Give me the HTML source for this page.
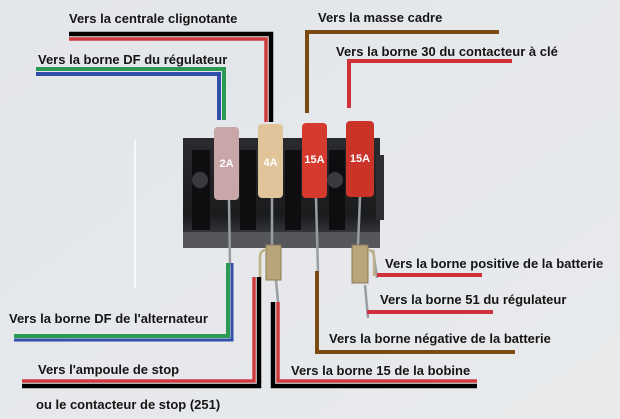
<!DOCTYPE html>
<html><head><meta charset="utf-8"><style>
html,body{margin:0;padding:0;background:#e5e8eb;}
svg{display:block}
text{font-family:"Liberation Sans",Arial,sans-serif;font-weight:bold;font-size:13px;fill:#151515;}
</style></head><body>
<svg width="620" height="419" viewBox="0 0 620 419" xmlns="http://www.w3.org/2000/svg">
<defs>
<linearGradient id="bg" x1="0" y1="0" x2="1" y2="1"><stop offset="0" stop-color="#e3e6ea"/><stop offset="1" stop-color="#e8eaec"/></linearGradient>
<linearGradient id="blk" x1="0" y1="0" x2="0" y2="1"><stop offset="0" stop-color="#2a2b2e"/><stop offset="0.7" stop-color="#1a1b1d"/><stop offset="1" stop-color="#4a4c50"/></linearGradient>
</defs>
<rect width="620" height="419" fill="url(#bg)"/>
<line x1="135" y1="140" x2="135" y2="288" stroke="#fff" stroke-width="1.5"/>

<!-- fuse block -->
<rect x="183" y="138" width="197" height="110" fill="url(#blk)"/>
<rect x="183" y="232" width="197" height="16" fill="#55575b"/>
<rect x="192" y="150" width="18" height="80" fill="#0e0e10"/>
<rect x="240" y="150" width="16" height="80" fill="#0e0e10"/>
<rect x="285" y="150" width="16" height="80" fill="#0e0e10"/>
<rect x="329" y="150" width="16" height="80" fill="#0e0e10"/>
<circle cx="200" cy="180" r="8" fill="#3a3b3e"/>
<circle cx="335" cy="180" r="8" fill="#3a3b3e"/>
<rect x="376" y="155" width="8" height="65" fill="#2e2f33"/>

<!-- fuses -->
<rect x="214" y="127" width="25" height="73" rx="4" fill="#c9a6a8"/>
<rect x="258" y="124" width="25" height="74" rx="4" fill="#e0c49a"/>
<rect x="302" y="123" width="25" height="75" rx="4" fill="#d63a2e"/>
<rect x="346" y="121" width="28" height="76" rx="4" fill="#cc3328"/>
<g style="font-size:11px" fill="#fff">
<text x="226.5" y="167" text-anchor="middle" style="fill:#fff;font-size:11px">2A</text>
<text x="270.5" y="166" text-anchor="middle" style="fill:#fff;font-size:11px">4A</text>
<text x="314.5" y="163" text-anchor="middle" style="fill:#fff;font-size:11px">15A</text>
<text x="360" y="162" text-anchor="middle" style="fill:#fff;font-size:11px">15A</text>
</g>

<!-- pins -->
<g stroke="#9a9ea3" stroke-width="2.5">
<line x1="229" y1="200" x2="230" y2="265"/>
<line x1="272" y1="198" x2="272" y2="250"/>
<line x1="316" y1="198" x2="318" y2="272"/>
<line x1="360" y1="197" x2="358" y2="245"/>
<line x1="276" y1="280" x2="278" y2="302"/>
<line x1="365" y1="285" x2="368" y2="318"/>
<line x1="373" y1="250" x2="377" y2="278"/>
</g>
<rect x="266" y="245" width="15" height="35" fill="#b8a57a" stroke="#8a7a55"/>
<path d="M266 250 q-6 0 -6 8 v22" fill="none" stroke="#c0b288" stroke-width="2.5"/>
<rect x="352" y="245" width="16" height="38" fill="#b8a57a" stroke="#8a7a55"/>
<path d="M368 250 q6 0 6 8 v18" fill="none" stroke="#c0b288" stroke-width="2.5"/>

<!-- top lines -->
<polyline points="69,34 271,34 271,122" fill="none" stroke="#000" stroke-width="4.5"/>
<polyline points="69,39 266,39 266,122" fill="none" stroke="#cf3a3e" stroke-width="3.5"/>
<polyline points="36,69 224,69 224,120" fill="none" stroke="#2a9a55" stroke-width="4"/>
<polyline points="36,74 219,74 219,120" fill="none" stroke="#2f4faa" stroke-width="4"/>
<polyline points="499,32 307,32 307,113" fill="none" stroke="#7b4a12" stroke-width="4"/>
<polyline points="512,61 349,61 349,108" fill="none" stroke="#d0303a" stroke-width="4"/>

<!-- bottom lines -->
<polyline points="228,263 228,336 14,336" fill="none" stroke="#2a9a55" stroke-width="4"/>
<polyline points="232,263 232,340 14,340" fill="none" stroke="#2f4faa" stroke-width="3"/>
<polyline points="259,277 259,386 22,386" fill="none" stroke="#000" stroke-width="4.5"/>
<polyline points="254,277 254,381 22,381" fill="none" stroke="#cf3a3e" stroke-width="3.5"/>
<polyline points="273,302 273,386 477,386" fill="none" stroke="#000" stroke-width="4.5"/>
<polyline points="278,302 278,381 477,381" fill="none" stroke="#cf3a3e" stroke-width="3.5"/>
<polyline points="317,271 317,352 515,352" fill="none" stroke="#7b4a12" stroke-width="4"/>
<line x1="377" y1="275" x2="482" y2="275" stroke="#d0303a" stroke-width="4"/>
<line x1="367" y1="312" x2="493" y2="312" stroke="#d0303a" stroke-width="4"/>

<!-- labels -->
<text x="69" y="23">Vers la centrale clignotante</text>
<text x="38" y="64">Vers la borne DF du régulateur</text>
<text x="318" y="22">Vers la masse cadre</text>
<text x="336" y="56">Vers la borne 30 du contacteur à clé</text>
<text x="385" y="268">Vers la borne positive de la batterie</text>
<text x="380" y="304">Vers la borne 51 du régulateur</text>
<text x="9" y="323">Vers la borne DF de l'alternateur</text>
<text x="329" y="343">Vers la borne négative de la batterie</text>
<text x="38" y="374">Vers l'ampoule de stop</text>
<text x="291" y="375">Vers la borne 15 de la bobine</text>
<text x="36" y="409">ou le contacteur de stop (251)</text>
</svg>
</body></html>
